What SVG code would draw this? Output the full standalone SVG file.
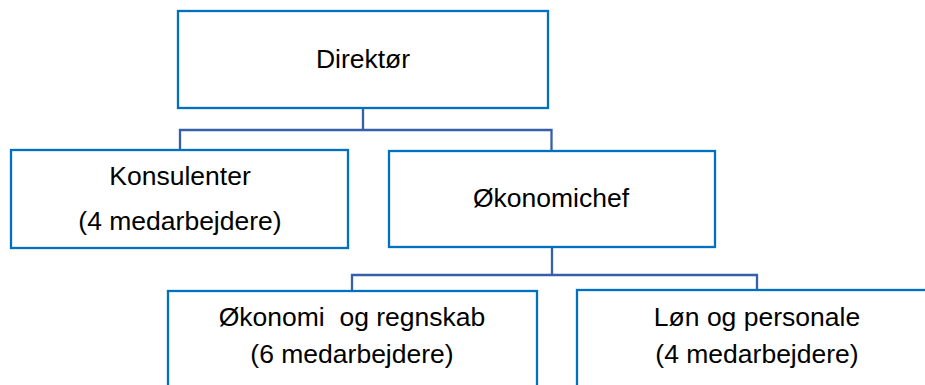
<svg xmlns="http://www.w3.org/2000/svg" width="925" height="385" viewBox="0 0 925 385">
<style>
.box{fill:#fff;stroke:#0070C0;stroke-width:2.3}
.con{fill:none;stroke:#3560A8;stroke-width:2.3}
text{font-family:"Liberation Sans",Arial,sans-serif;font-size:26.5px;fill:#000;text-anchor:middle;white-space:pre}
</style>
<rect width="925" height="385" fill="#fff"/>
<g id="connectors">
<path class="con" d="M363 108V130M180 150V130H551.5V151"/>
<path class="con" d="M552 247V275M352 291V275H757V290"/>
</g>
<g id="direktor">
<rect class="box" x="178" y="11" width="370" height="97"/>
<text x="363" y="68">Direktør</text>
</g>
<g id="konsulenter">
<rect class="box" x="11" y="150" width="337" height="98"/>
<text x="180" y="185">Konsulenter</text>
<text x="180" y="230">(4 medarbejdere)</text>
</g>
<g id="okonomichef">
<rect class="box" x="389" y="151" width="326" height="96"/>
<text x="551" y="207">Økonomichef</text>
</g>
<g id="okonomi">
<rect class="box" x="168" y="291" width="369" height="120"/>
<text x="352" y="326" xml:space="preserve">Økonomi  og regnskab</text>
<text x="352" y="363">(6 medarbejdere)</text>
</g>
<g id="lon">
<rect class="box" x="577" y="290" width="360" height="120"/>
<text x="757" y="326">Løn og personale</text>
<text x="757" y="363">(4 medarbejdere)</text>
</g>
</svg>
